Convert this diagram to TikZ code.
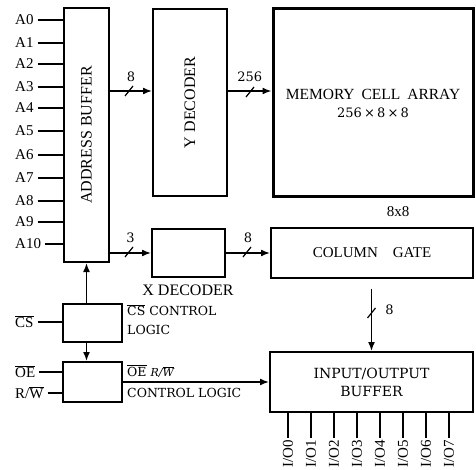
\documentclass[tikz,border=0pt]{standalone}
\usepackage{fontspec}
\setmainfont{Liberation Serif}
\newfontfamily\lblfont{DejaVu Serif}
\usetikzlibrary{arrows.meta}
\newcommand{\ovl}[1]{$\overline{\mbox{#1}}$}

\begin{document}
\begin{tikzpicture}[x=1pt, y=-1pt, >={Latex[length=9pt,width=7pt]},
  font=\fontsize{15}{17}\selectfont,
  box/.style={draw, line width=2pt, inner sep=0pt, align=center},
  title/.style={font=\fontsize{16}{18}\selectfont},
  pinlbl/.style={anchor=west, inner xsep=4pt, inner ysep=1pt},
  iolbl/.style={rotate=90, anchor=east, inner sep=2pt},
  num/.style={font=\lblfont\fontsize{13}{15}\selectfont, inner sep=1pt},
  note/.style={font=\lblfont\fontsize{12.5}{19}\selectfont, align=left, inner sep=1pt},
  wire/.style={line width=1.4pt},
  flow/.style={->, line width=1.6pt},
  bus/.style={line width=1.2pt}]
\useasboundingbox (0,0) rectangle (476,470);

% blocks
\node[box, title, minimum width=45pt, minimum height=254pt] (ab) at (86.5,135) {\rotatebox{90}{ADDRESS BUFFER}};
\node[box, title, minimum width=74pt, minimum height=187pt] (yd) at (190,102.5) {\rotatebox{90}{Y DECODER}};
\node[box, line width=3pt, minimum width=200pt, minimum height=188pt] (mem) at (373,103)
  {\fontsize{15.5}{17}\selectfont MEMORY\hspace{.45em}CELL\hspace{.45em}ARRAY\\[1pt]{\lblfont\fontsize{13}{15}\selectfont 256\,×\,8\,×\,8}};
\node[box, minimum width=73pt, minimum height=48pt] (xd) at (188.5,253) {};
\node[box, minimum width=202pt, minimum height=50pt] (cg) at (372,253) {COLUMN\hspace{1em}GATE};
\node[box, minimum width=59pt, minimum height=38pt] (csl) at (92.5,323) {};
\node[box, minimum width=59pt, minimum height=40pt] (ctl) at (92.5,382) {};
\node[box, font=\lblfont\fontsize{14}{18}\selectfont, minimum width=203pt, minimum height=60pt] (io) at (371.5,382) {INPUT/OUTPUT\\BUFFER};

% captions
\node[title] (xdl) at (188,290) {X DECODER};
\node (grid) at (398,212) {8x8};
\node[note, anchor=north west] (csn) at (126,303) {\ovl{CS} CONTROL\\LOGIC};
\node[note, anchor=west] (ctn) at (126,371) {\ovl{OE} {\itshape\fontsize{11}{13}\selectfont R/\ovl{W}}};
\node[note, anchor=west] (ctl2) at (126,393) {CONTROL LOGIC};

% address inputs
\foreach \i/\y in {0/20,1/43,2/64,3/87,4/108,5/131,6/155,7/178,8/201,9/222,10/244} {
  \node[pinlbl] (a\i) at (11,\y) {A\i};
  \draw[wire] (a\i.east) -- (a\i.east -| ab.west);
}

% control inputs
\node[pinlbl] (cs) at (11,322) {\ovl{CS}};
\node[pinlbl] (oe) at (11,372) {\ovl{OE}};
\node[pinlbl] (rw) at (11,393) {R/\ovl{W}};
\draw[wire] (cs.east) -- (cs.east -| csl.west);
\draw[wire] (oe.east) -- (oe.east -| ctl.west);
\draw[wire] (rw.east) -- (rw.east -| ctl.west);

% buses
\coordinate (yrow) at (0,91);
\draw[flow] (ab.east |- yrow) -- node[num, above=8pt]{8} (yd.west |- yrow);
\draw[flow] (yd.east |- yrow) -- node[num, above=8pt]{256} (mem.west |- yrow);
\draw[flow] (ab.east |- xd.west) -- node[num, above=9pt]{3} (xd.west);
\draw[flow] (xd.east) -- node[num, above=9pt]{8} (xd.east -| cg.west);
\draw[flow] ([yshift=-10pt]cg.south -| io.north) -- node[num, right=12pt, pos=0.34]{8} (io.north);
\draw[bus] (129,91) ++(-4,5) -- ++(8,-10);
\draw[bus] (250,92) ++(-4,5) -- ++(8,-10);
\draw[bus] (129,252) ++(-4,5) -- ++(8,-10);
\draw[bus] (247,252) ++(-4,5) -- ++(8,-10);
\draw[bus] (371.5,313) ++(-4,5) -- ++(8,-10);

% control
\draw[flow] (csl.north -| ab.south) -- (ab.south);
\draw[flow] (csl.south -| ab.south) -- (ctl.north -| ab.south);
\draw[flow] (ctl.east) -- (io.west);

% data lines
\foreach \i in {0,...,7} {
  \node[iolbl] (o\i) at (288+23*\i,438) {I/O\i};
  \draw[wire] (o\i.east |- io.south) -- (o\i.east);
}
\end{tikzpicture}
\end{document}
